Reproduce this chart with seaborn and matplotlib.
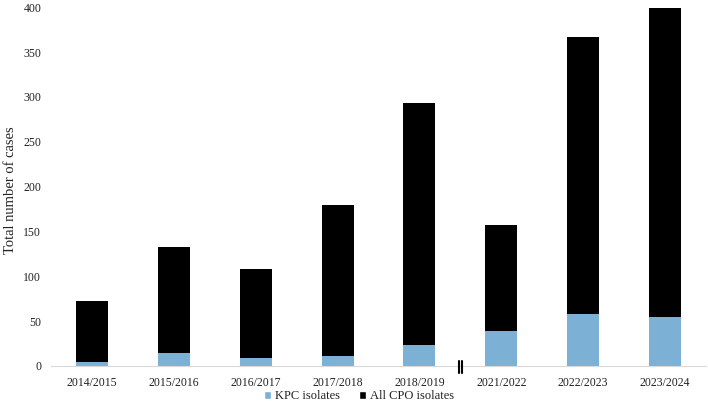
import matplotlib
matplotlib.use("Agg")
import matplotlib.pyplot as plt
import seaborn as sns
from matplotlib.patches import Patch
import matplotlib.transforms as mtransforms

# Data
seasons = ["2014/2015", "2015/2016", "2016/2017", "2017/2018", "2018/2019",
           "2021/2022", "2022/2023", "2023/2024"]
all_cpo = [73, 133, 108, 179, 293, 157, 367, 399]
kpc = [4, 15, 9, 11, 23, 39, 58, 55]

KPC_COLOR = "#7DB0D5"
CPO_COLOR = "#000000"

sns.set_theme(style="white")
plt.rcParams["font.family"] = ["Liberation Serif", "DejaVu Serif"]

fig, ax = plt.subplots(figsize=(7.08, 4.04), dpi=100)
fig.subplots_adjust(left=51 / 708, right=706 / 708, top=1 - 7.3 / 404, bottom=1 - 366 / 404)

# Total CPO bars first, KPC bars drawn over them from zero
sns.barplot(x=seasons, y=all_cpo, color=CPO_COLOR, saturation=1, width=0.39,
            linewidth=0, edgecolor="none", ax=ax)
sns.barplot(x=seasons, y=kpc, color=KPC_COLOR, saturation=1, width=0.39,
            linewidth=0, edgecolor="none", ax=ax)

ax.set_xlim(-0.5, len(seasons) - 0.5)
ax.set_ylim(0, 400)
ax.set_yticks(range(0, 401, 50))
ax.set_ylabel("Total number of cases", fontsize=10.5, color="#222222")
ax.yaxis.set_label_coords(-0.052, 0.49)
ax.set_xlabel("")
ax.tick_params(axis="both", length=0, labelsize=8.5, colors="#222222")
ax.tick_params(axis="y", pad=7)
ax.tick_params(axis="x", pad=8)

for side in ["top", "right", "left"]:
    ax.spines[side].set_visible(False)
ax.spines["bottom"].set_color("#D9D9D9")
ax.spines["bottom"].set_linewidth(0.8)

# Axis break marker between 2018/2019 and 2021/2022
trans = mtransforms.blended_transform_factory(ax.transData, ax.transAxes)
for dx in (-0.022, 0.022):
    ax.plot([4.5 + dx, 4.5 + dx], [0.014, -0.02], color="black", lw=1.5,
            transform=trans, clip_on=False, zorder=10)

handles = [Patch(facecolor=KPC_COLOR, label="KPC isolates"),
           Patch(facecolor=CPO_COLOR, label="All CPO isolates")]
fig.legend(handles=handles, loc="center", bbox_to_anchor=(359 / 708, 1 - 396 / 404),
           ncol=2, frameon=False, fontsize=9, handlelength=0.6, handleheight=0.6,
           handletextpad=0.3, columnspacing=1.5, labelcolor="#222222")

fig.savefig("out.png", dpi=100)
